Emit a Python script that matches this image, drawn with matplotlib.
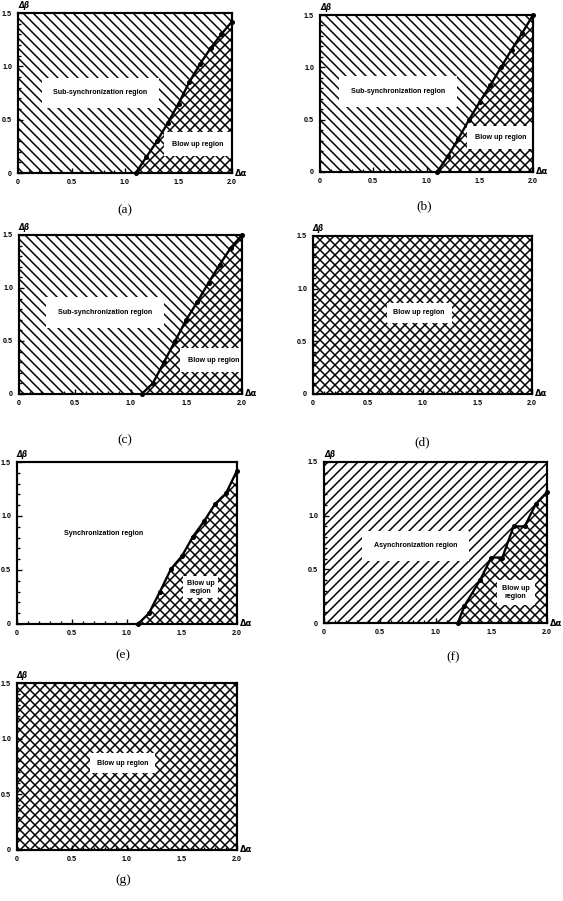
import matplotlib.pyplot as plt
from matplotlib.ticker import MultipleLocator

# fronteiras entre regioes (delta alfa, delta beta)
alfa_a = [1.1, 1.2, 1.3, 1.4, 1.5, 1.6, 1.7, 1.8, 1.9, 2.0]
beta_a = [0.0, 0.15, 0.3, 0.47, 0.65, 0.85, 1.02, 1.17, 1.3, 1.42]

alfa_b = [1.1, 1.2, 1.3, 1.4, 1.5, 1.6, 1.7, 1.8, 1.9, 2.0]
beta_b = [0.0, 0.15, 0.32, 0.5, 0.67, 0.83, 1.0, 1.17, 1.33, 1.5]

alfa_c = [1.1, 1.2, 1.3, 1.4, 1.5, 1.6, 1.7, 1.8, 1.9, 2.0]
beta_c = [0.0, 0.1, 0.3, 0.5, 0.7, 0.87, 1.05, 1.22, 1.38, 1.5]

alfa_e = [1.1, 1.2, 1.3, 1.4, 1.5, 1.6, 1.7, 1.8, 1.9, 2.0]
beta_e = [0.0, 0.1, 0.3, 0.51, 0.63, 0.81, 0.95, 1.11, 1.21, 1.42]

alfa_f = [1.2, 1.26, 1.4, 1.5, 1.6, 1.7, 1.8, 1.9, 2.0]
beta_f = [0.0, 0.16, 0.4, 0.61, 0.61, 0.9, 0.9, 1.11, 1.22]

# eixos
xticks = [0, 0.5, 1.0, 1.5, 2.0]
xticklabels = ['0', '0.5', '1.0', '1.5', '2.0']
yticks = [0, 0.5, 1.0, 1.5]
yticklabels = ['0', '0.5', '1.0', '1.5']

# textos das regioes
txt_sub = 'Sub-synchronization region'
txt_sync = 'Synchronization region'
txt_async = 'Asynchronization region'
txt_blow = 'Blow up region'
txt_blow2 = 'Blow up\nregion'

# hachuras (densidade dobrada para chegar ao espacamento do original)
h_sub = '\\' * 4
h_async = '/' * 4
h_blow = 'x' * 4

plt.rcParams['hatch.linewidth'] = 0.9
plt.rcParams['hatch.color'] = 'black'

fig = plt.figure(figsize=(563 / 120, 901 / 120), dpi=120)
W, H = 563, 901


def eixo(l, r, t, b):
    return fig.add_axes([l / W, 1 - b / H, (r - l) / W, (b - t) / H])


def painel(ax, fundo, alfa, beta, textos, letra, lx, ly):
    ax.set_xlim(0, 2)
    ax.set_ylim(0, 1.5)
    if fundo:
        ax.fill_between([0, 2], 0, 1.5, facecolor='white', edgecolor='black',
                        hatch=fundo, linewidth=0, zorder=1)
    if alfa is not None:
        ax.fill_between(alfa, 0, beta, facecolor='white', edgecolor='black',
                        hatch=h_blow, linewidth=0, zorder=2)
        ax.plot(alfa, beta, color='black', lw=1.4, marker='o', ms=2, zorder=4,
                clip_on=False)
    for x, y, s, pad in textos:
        ax.text(x, y, s, ha='center', va='center', fontsize=4.3,
                fontweight='bold', family='Liberation Sans', zorder=5,
                bbox=dict(facecolor='white', edgecolor='none', pad=pad))
    ax.set_xticks(xticks)
    ax.set_xticklabels(xticklabels)
    ax.set_yticks(yticks)
    ax.set_yticklabels(yticklabels)
    ax.xaxis.set_minor_locator(MultipleLocator(0.1))
    ax.yaxis.set_minor_locator(MultipleLocator(0.1))
    ax.tick_params(which='both', direction='in', labelsize=4.3, width=0.8,
                   top=False, right=False, pad=3.5)
    ax.tick_params(which='major', length=3)
    ax.tick_params(which='minor', length=2)
    for lb in ax.get_xticklabels() + ax.get_yticklabels():
        lb.set_fontweight('bold')
        lb.set_family('Liberation Sans')
    for s in ax.spines.values():
        s.set_linewidth(1.3)
        s.set_zorder(6)
    ax.text(0, 1.53, 'Δβ', fontsize=4.5, fontweight='bold', style='italic',
            ha='left', va='bottom')
    ax.text(2.03, 0, 'Δα', fontsize=5, fontweight='bold', ha='left', va='center')
    fig.text(lx / W, 1 - ly / H, letra, ha='center', va='center', fontsize=8,
             family='Liberation Serif')


ax = eixo(18, 232, 13, 173)
painel(ax, h_sub, alfa_a, beta_a,
       [(0.77, 0.75, txt_sub, 7), (1.68, 0.27, txt_blow, 5)], '(a)', 125, 210)

ax = eixo(320, 533, 15, 172)
painel(ax, h_sub, alfa_b, beta_b,
       [(0.73, 0.77, txt_sub, 7), (1.7, 0.33, txt_blow, 5)], '(b)', 424, 206)

ax = eixo(19, 242, 235, 394)
painel(ax, h_sub, alfa_c, beta_c,
       [(0.77, 0.77, txt_sub, 7), (1.75, 0.32, txt_blow, 5)], '(c)', 125, 440)

ax = eixo(313, 532, 236, 394)
painel(ax, h_blow, None, None,
       [(0.97, 0.77, txt_blow, 4)], '(d)', 422, 442)

ax = eixo(17, 237, 462, 624)
painel(ax, None, alfa_e, beta_e,
       [(0.79, 0.84, txt_sync, 3), (1.67, 0.34, txt_blow2, 2)], '(e)', 123, 655)

ax = eixo(324, 547, 462, 623)
painel(ax, h_async, alfa_f, beta_f,
       [(0.82, 0.72, txt_async, 7), (1.72, 0.28, txt_blow2, 3)], '(f)', 453, 657)

ax = eixo(17, 237, 683, 850)
painel(ax, h_blow, None, None,
       [(0.96, 0.78, txt_blow, 4)], '(g)', 123, 880)

fig.savefig('out.png', dpi=120)
